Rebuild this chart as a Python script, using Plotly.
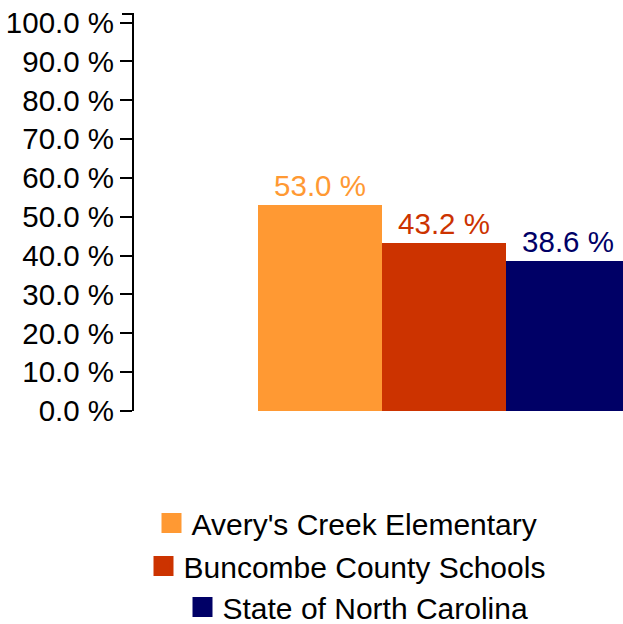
import plotly.graph_objects as go

series_names = ["Avery's Creek Elementary", "Buncombe County Schools", "State of North Carolina"]
values = [53.0, 43.2, 38.6]
colors = ["#FF9933", "#CC3300", "#000066"]
category = ["All"]

FONT = "Arial, Liberation Sans, sans-serif"
FS = 29.5
LFS = 30
W, H = 623, 624
ML, MR, MT, MB = 134, 0, 14, 213

fig = go.Figure()
legend_ids = ["legend", "legend2", "legend3"]
for name, val, col, lg in zip(series_names, values, colors, legend_ids):
    fig.add_trace(go.Bar(
        x=category, y=[val], name=name, marker=dict(color=col, line=dict(width=0)),
        text=[f"{val:.1f} %"], textposition="outside", cliponaxis=False,
        textfont=dict(color=col, size=FS, family=FONT), showlegend=False,
    ))
    fig.add_trace(go.Scatter(
        x=[None], y=[None], mode="markers", name=name,
        marker=dict(symbol="square", size=16, color=col, line=dict(color=col, width=4)),
        showlegend=True, legend=lg,
    ))

legend_rows = [523, 566, 607]
legend_x = [347, 347, 358]
plot_w = W - ML - MR
plot_h = H - MT - MB
legend_cfg = {}
for lg, ypx, xpx in zip(legend_ids, legend_rows, legend_x):
    legend_cfg[lg] = dict(
        xref="container", yref="container",
        x=xpx / W, xanchor="center",
        y=1 - ypx / H, yanchor="middle",
        font=dict(size=LFS, family=FONT, color="#000000"),
        bgcolor="rgba(0,0,0,0)", itemsizing="trace",
    )

fig.update_layout(
    width=W, height=H,
    margin=dict(l=ML, r=MR, t=MT, b=MB, pad=0, autoexpand=False),
    paper_bgcolor="white", plot_bgcolor="white",
    barmode="group", bargap=0, bargroupgap=0,
    font=dict(family=FONT, size=FS, color="#000000"),
    xaxis=dict(visible=False, range=[-310 / 372, (plot_w - 310) / 372]),
    yaxis=dict(range=[0, 102.2], dtick=10, tick0=0, tickformat=".1f", ticksuffix=" %",
               showline=True, linecolor="#000000", linewidth=2,
               ticks="outside", ticklen=12, tickwidth=2, tickcolor="#000000",
               showgrid=False, zeroline=False, ticklabelstandoff=0,
               tickfont=dict(size=FS, family=FONT, color="#000000")),
    shapes=[dict(type="line", xref="paper", yref="paper", x0=-12 / plot_w, x1=0, y0=1, y1=1,
                 line=dict(color="#000000", width=2))],
    **legend_cfg,
)

fig.write_html("out.html", config={"displayModeBar": False},
               post_script="document.body.style.margin='0';document.body.style.overflow='hidden';")
